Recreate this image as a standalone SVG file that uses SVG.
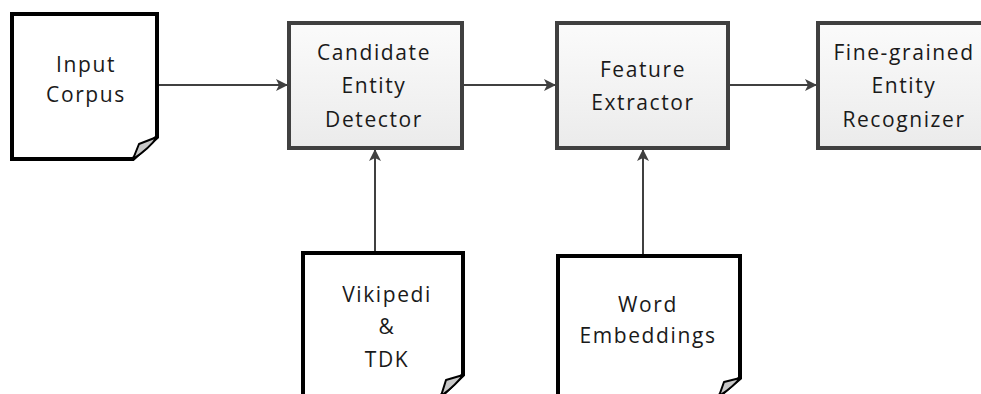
<svg xmlns="http://www.w3.org/2000/svg" width="981" height="394" viewBox="0 0 981 394">
<style>
.box{fill:url(#g);stroke:#404040;stroke-width:4}
.doc{fill:#fff;stroke:#000;stroke-width:4;stroke-linejoin:miter}
.fold{fill:#c8c8c8;stroke:#000;stroke-width:2;stroke-linejoin:round}
.t{font-family:"Open Sans","DejaVu Sans",sans-serif;font-size:21px;fill:#1a1a1a;text-anchor:middle;letter-spacing:1.6px}
.c{stroke:#404040;stroke-width:2;fill:none;marker-end:url(#a)}
</style>
<defs>
<linearGradient id="g" x1="0" y1="0" x2="0" y2="1">
<stop offset="0" stop-color="#fbfbfb"/>
<stop offset="1" stop-color="#ebebeb"/>
</linearGradient>
<marker id="a" markerWidth="12" markerHeight="12" refX="11" refY="6" orient="auto" markerUnits="userSpaceOnUse">
<path d="M0,0 L12,6 L0,12 L3,6 Z" fill="#404040"/>
</marker>
</defs>
<g id="connectors">
<path class="c" d="M157,85 H287"/>
<path class="c" d="M462,85 H555"/>
<path class="c" d="M728,85 H816"/>
<path class="c" d="M375,253 V150"/>
<path class="c" d="M643,256 V150"/>
</g>
<g id="input-corpus">
<path class="doc" d="M12,14 H157 V137 L133,159 H12 Z"/>
<path class="fold" d="M133,159 L139,144 L157,137 Q150,148 133,159 Z"/>
<text class="t" x="86" y="72">Input</text>
<text class="t" x="86" y="102">Corpus</text>
</g>
<g id="candidate-entity-detector">
<rect class="box" x="289" y="23" width="173" height="125"/>
<text class="t" x="374" y="60">Candidate</text>
<text class="t" x="374" y="93">Entity</text>
<text class="t" x="374" y="127">Detector</text>
</g>
<g id="feature-extractor">
<rect class="box" x="557" y="23" width="171" height="125"/>
<text class="t" x="643" y="77">Feature</text>
<text class="t" x="643" y="110">Extractor</text>
</g>
<g id="fine-grained-entity-recognizer">
<rect class="box" x="818" y="23" width="175" height="125"/>
<text class="t" x="904" y="60">Fine-grained</text>
<text class="t" x="904" y="93">Entity</text>
<text class="t" x="904" y="127">Recognizer</text>
</g>
<g id="vikipedi-tdk">
<path class="doc" d="M303,253 H463 V375 L441,396 H303 Z"/>
<path class="fold" d="M441,396 L446,380 L463,375 Q456,385 441,396 Z"/>
<text class="t" x="387" y="302">Vikipedi</text>
<text class="t" x="387" y="334">&amp;</text>
<text class="t" x="387" y="367">TDK</text>
</g>
<g id="word-embeddings">
<path class="doc" d="M558,256 H740 V378 L719,396 H558 Z"/>
<path class="fold" d="M719,396 L724,382 L740,378 Q733,387 719,396 Z"/>
<text class="t" x="648" y="312">Word</text>
<text class="t" x="648" y="343">Embeddings</text>
</g>
</svg>
